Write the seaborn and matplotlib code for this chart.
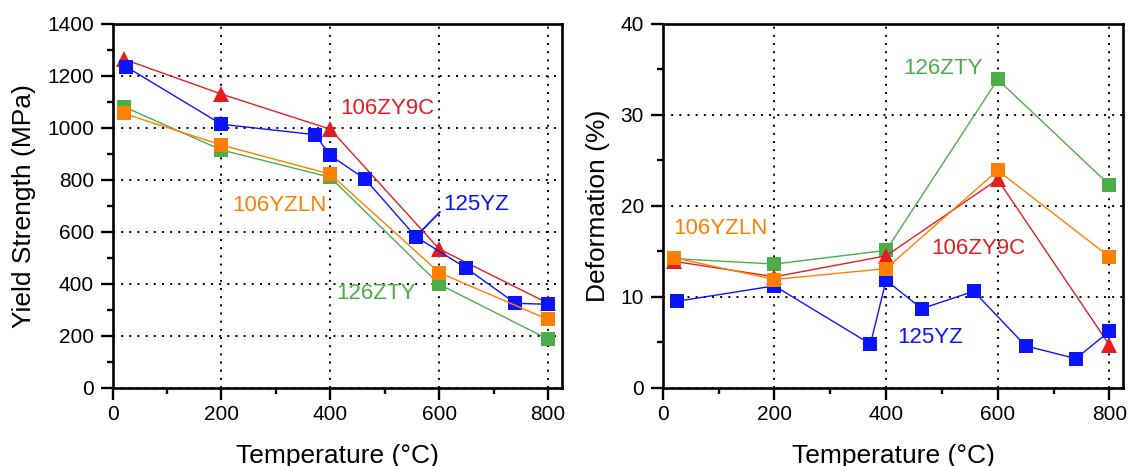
import numpy as np
import pandas as pd
import matplotlib
matplotlib.use("Agg")
import matplotlib.pyplot as plt
from matplotlib.ticker import MultipleLocator
import seaborn as sns

# Test temperatures (°C) for each alloy
temp_106ZY9C = [20, 200, 400, 600, 800]
temp_106YZLN = [20, 200, 400, 600, 800]
temp_126ZTY = [20, 200, 400, 600, 800]
temp_125YZ = [25, 200, 372, 400, 464, 557, 650, 740, 800]

# Yield strength (MPa)
ys_106ZY9C = [1265, 1130, 995, 534, 325]
ys_106YZLN = [1056, 934, 822, 443, 263]
ys_126ZTY = [1082, 915, 810, 398, 187]
ys_125YZ = [1235, 1014, 974, 894, 803, 581, 460, 325, 321]

# Deformation (%)
df_106ZY9C = [13.9, 12.2, 14.5, 22.9, 4.7]
df_106YZLN = [14.3, 11.9, 13.1, 23.9, 14.4]
df_126ZTY = [14.2, 13.6, 15.1, 33.9, 22.3]
df_125YZ = [9.5, 11.2, 4.8, 11.8, 8.7, 10.6, 4.6, 3.2, 6.2]

alloys = ["126ZTY", "106ZY9C", "125YZ", "106YZLN"]  # drawing order
colors = {"106ZY9C": "#e41e20", "106YZLN": "#ff8000",
          "126ZTY": "#4cae48", "125YZ": "#0a14ff"}
markers = {"106ZY9C": "^", "106YZLN": "s", "126ZTY": "s", "125YZ": "s"}
msize = {"106ZY9C": 11, "106YZLN": 9.5, "126ZTY": 9.5, "125YZ": 9.5}

temps = {"106ZY9C": temp_106ZY9C, "106YZLN": temp_106YZLN,
         "126ZTY": temp_126ZTY, "125YZ": temp_125YZ}
strength = {"106ZY9C": ys_106ZY9C, "106YZLN": ys_106YZLN,
            "126ZTY": ys_126ZTY, "125YZ": ys_125YZ}
deform = {"106ZY9C": df_106ZY9C, "106YZLN": df_106YZLN,
          "126ZTY": df_126ZTY, "125YZ": df_125YZ}

sns.set_theme(style="ticks", rc={
    "axes.edgecolor": "black", "axes.linewidth": 1.9,
    "xtick.color": "black", "ytick.color": "black",
    "text.color": "black", "axes.labelcolor": "black",
    "xtick.major.size": 8.5, "ytick.major.size": 8.5,
    "xtick.minor.size": 4.5, "ytick.minor.size": 4.5,
    "xtick.major.width": 1.7, "ytick.major.width": 1.7,
    "xtick.minor.width": 1.7, "ytick.minor.width": 1.7,
    "xtick.direction": "out", "ytick.direction": "out",
})
plt.rcParams["font.family"] = ["Liberation Sans", "DejaVu Sans"]

fig = plt.figure(figsize=(11.3, 4.66), dpi=100)
ax1 = fig.add_axes([0.0997, 0.168, 0.3973, 0.7805])
ax2 = fig.add_axes([0.5865, 0.168, 0.4076, 0.7805])


def draw_panel(ax, values, ylim, ymajor, yminor, ylabel):
    for name in alloys:
        frame = pd.DataFrame({"T": temps[name], "v": values[name]})
        sns.lineplot(data=frame, x="T", y="v", ax=ax, sort=False,
                     estimator=None, color=colors[name],
                     linewidth=1.0, marker=markers[name],
                     markersize=msize[name], markeredgewidth=0,
                     zorder=3)
    ax.set_xlim(0, 825)
    ax.set_ylim(*ylim)
    ax.xaxis.set_major_locator(MultipleLocator(200))
    ax.xaxis.set_minor_locator(MultipleLocator(100))
    ax.yaxis.set_major_locator(MultipleLocator(ymajor))
    ax.yaxis.set_minor_locator(MultipleLocator(yminor))
    ax.tick_params(axis="both", which="major", labelsize=15, pad=4)
    ax.tick_params(axis="y", which="major", pad=5)
    ax.grid(True, which="major", color="black",
            linestyle=(0, (1, 3.2)), linewidth=1.4)
    ax.set_axisbelow(True)
    ax.set_xlabel("Temperature (°C)", fontsize=19, labelpad=14)
    ax.set_ylabel(ylabel, fontsize=19, labelpad=8)
    for side in ["top", "right", "left", "bottom"]:
        ax.spines[side].set_visible(True)


draw_panel(ax1, strength, (0, 1400), 200, 100, "Yield Strength (MPa)")
draw_panel(ax2, deform, (0, 40), 10, 5, "Deformation (%)")

lab = dict(fontsize=16, ha="center", va="center")
ax1.text(504, 1075, "106ZY9C", color=colors["106ZY9C"], **lab)
ax1.text(306, 703, "106YZLN", color=colors["106YZLN"], **lab)
ax1.text(484, 363, "126ZTY", color=colors["126ZTY"], **lab)
ax1.annotate("125YZ", xy=(565, 598), xytext=(668, 706),
             color=colors["125YZ"], fontsize=16, ha="center", va="center",
             arrowprops=dict(arrowstyle="-", color=colors["125YZ"],
                             linewidth=1.3, shrinkA=0, shrinkB=0,
                             relpos=(0.0, 0.3)))

ax2.text(502, 35.1, "126ZTY", color=colors["126ZTY"], **lab)
ax2.text(103, 17.5, "106YZLN", color=colors["106YZLN"], **lab)
ax2.text(566, 15.3, "106ZY9C", color=colors["106ZY9C"], **lab)
ax2.text(479, 5.55, "125YZ", color=colors["125YZ"], **lab)

fig.savefig("out.png", dpi=100)
